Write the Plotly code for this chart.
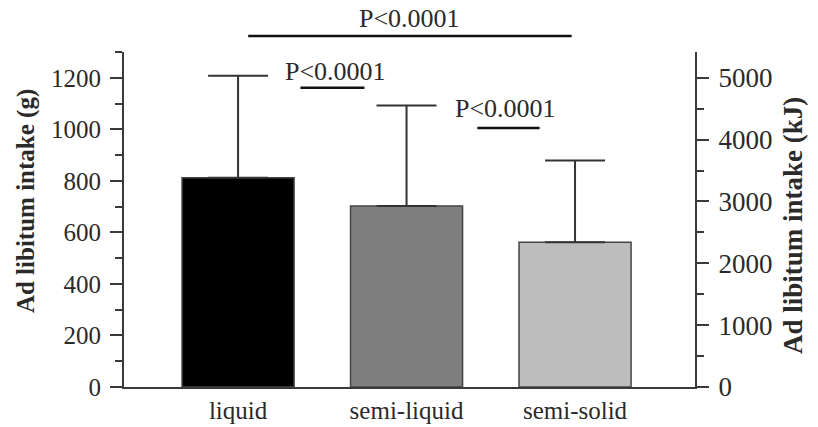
import plotly.graph_objects as go

categories = ["liquid", "semi-liquid", "semi-solid"]
intake_g = [812, 702, 562]
sd_g = [396, 390, 317]
bar_colors = ["#000000", "#7f7f7f", "#bdbdbd"]

left_ticks = [0, 200, 400, 600, 800, 1000, 1200]
right_ticks = [0, 1000, 2000, 3000, 4000, 5000]
g_max = 1300
kj_per_g = 5000 / 1200

left_title = "Ad libitum intake (g)"
right_title = "Ad libitum intake (kJ)"

# significance brackets: (x0, x1, line y paper, label x, label y paper)
sig_x0 = [0.06, 0.37, 1.42]
sig_x1 = [1.98, 0.75, 1.79]
sig_line_y = [1.048, 0.893, 0.773]
sig_text_x = [1.02, 0.58, 1.59]
sig_text_y = [1.100, 0.942, 0.832]
sig_text = ["P<0.0001", "P<0.0001", "P<0.0001"]

FONT = "Liberation Serif"
AX = "#3a3a3a"
x_idx = list(range(len(categories)))

fig = go.Figure()
fig.add_trace(go.Bar(
    x=x_idx, y=intake_g, width=0.665,
    marker=dict(color=bar_colors, line=dict(color="#444444", width=1.5)),
    error_y=dict(type="data", array=sd_g, arrayminus=[0] * 3, symmetric=False,
                 color="#333333", thickness=2, width=30),
    showlegend=False,
))
fig.add_trace(go.Scatter(x=[0], y=[0], yaxis="y2", mode="markers",
                         marker=dict(opacity=0), showlegend=False, hoverinfo="skip"))

for x0, x1, ly, tx, ty, t in zip(sig_x0, sig_x1, sig_line_y, sig_text_x, sig_text_y, sig_text):
    fig.add_shape(type="line", xref="x", yref="paper", x0=x0, x1=x1, y0=ly, y1=ly,
                  line=dict(color="#111111", width=2.5))
    fig.add_annotation(xref="x", yref="paper", x=tx, y=ty, text=t, showarrow=False,
                       xanchor="center", yanchor="middle",
                       font=dict(family=FONT, size=26, color="#2a2a2a"))

fig.add_annotation(xref="paper", yref="paper", x=-0.1716, y=0.555, text="<b>%s</b>" % left_title,
                   textangle=-90, showarrow=False, xanchor="center", yanchor="middle",
                   font=dict(family=FONT, size=25, color="#2a2a2a"))
fig.add_annotation(xref="paper", yref="paper", x=1.1716, y=0.4836, text="<b>%s</b>" % right_title,
                   textangle=-90, showarrow=False, xanchor="center", yanchor="middle",
                   font=dict(family=FONT, size=27, color="#2a2a2a"))

fig.update_layout(
    width=818, height=427,
    margin=dict(l=124, r=123, t=52, b=40, autoexpand=False),
    paper_bgcolor="white", plot_bgcolor="white",
    font=dict(family=FONT, size=25, color="#2a2a2a"),
    xaxis=dict(
        range=[-0.677, 2.712], tickmode="array", tickvals=x_idx, ticktext=categories,
        showline=True, linecolor=AX, linewidth=2, ticks="", showgrid=False,
        zeroline=False, tickfont=dict(family=FONT, size=25), automargin=False,
    ),
    yaxis=dict(
        range=[0, g_max], tickmode="array", tickvals=left_ticks,
        showline=True, linecolor=AX, linewidth=2,
        ticks="outside", ticklen=12, tickwidth=2, tickcolor=AX,
        minor=dict(dtick=100, ticks="outside", ticklen=7, tickwidth=2, tickcolor=AX),
        showgrid=False, zeroline=False, ticklabelstandoff=4, automargin=False,
        tickfont=dict(family=FONT, size=25),
    ),
    yaxis2=dict(
        overlaying="y", side="right", range=[0, g_max * kj_per_g], tickmode="array",
        tickvals=right_ticks,
        showline=True, linecolor=AX, linewidth=2,
        ticks="outside", ticklen=12, tickwidth=2, tickcolor=AX,
        minor=dict(dtick=500, ticks="outside", ticklen=7, tickwidth=2, tickcolor=AX),
        showgrid=False, zeroline=False, ticklabelstandoff=4, automargin=False,
        tickfont=dict(family=FONT, size=27),
    ),
)

fig.write_html("out.html")
